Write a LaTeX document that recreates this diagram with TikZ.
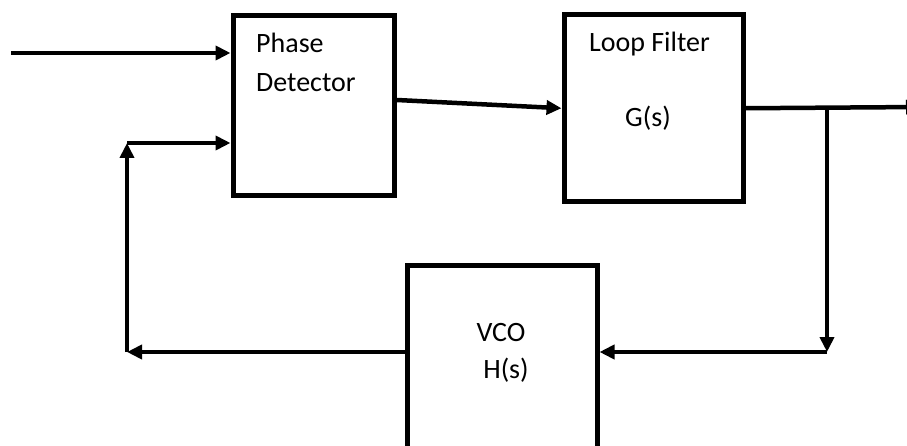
\documentclass[tikz,border=0pt]{standalone}
\usepackage{fontspec}
\setmainfont{Carlito}
\usetikzlibrary{arrows.meta}
\begin{document}
\begin{tikzpicture}[x=1pt,y=-1pt,
  blockbox/.style={draw=black,line width=5pt,minimum width=#1,inner sep=0pt},
  wire/.style={line width=4.5pt,-{Triangle[length=15pt,width=14pt]}},
  plain/.style={line width=4.5pt},
  lbl/.style={font=\fontsize{28}{32}\selectfont,text=black,inner sep=0pt}]
\clip (0,0) rectangle (907,446);
\fill[white] (0,0) rectangle (907,446);
% blocks
\node[blockbox=161.5pt,minimum height=180pt] (pd) at (313.75,105.5) {};
\node[blockbox=179pt,minimum height=187.5pt] (lf) at (653.5,108.25) {};
\node[blockbox=189.5pt,minimum height=234.5pt] (vco) at (502.25,382.75) {};
% labels
\node[lbl,anchor=base west] (t1) at (256,53) {Phase};
\node[lbl,anchor=base west] (t2) at (256,92) {Detector};
\node[lbl,anchor=base] (t3) at (649.5,52) {Loop Filter};
\node[lbl,anchor=base] (t4) at (648,127) {G(s)};
\node[lbl,anchor=base] (t5) at (501,341) {VCO};
\node[lbl,anchor=base] (t6) at (506,378) {H(s)};
% coordinates
\coordinate (in) at (11,53);
\coordinate (fbtop) at (127,143);
\coordinate (fbbot) at (127,352);
\coordinate (br) at (827,108);
\coordinate (brbot) at (827,352);
\coordinate (out) at (921,107);
% connectors
\draw[wire] (in) -- (in -| pd.west);
\draw[wire] ([yshift=5.5pt]pd.east) -- (lf.west);
\draw[wire] (lf.east) -- (out);
\draw[wire] (br) -- (brbot);
\draw[wire] (brbot) -- (brbot -| vco.east);
\draw[wire] (vco.west |- fbbot) -- (fbbot);
\draw[wire] (fbbot) -- (fbtop);
\draw[wire] (fbtop) -- (fbtop -| pd.west);
\end{tikzpicture}
\end{document}
